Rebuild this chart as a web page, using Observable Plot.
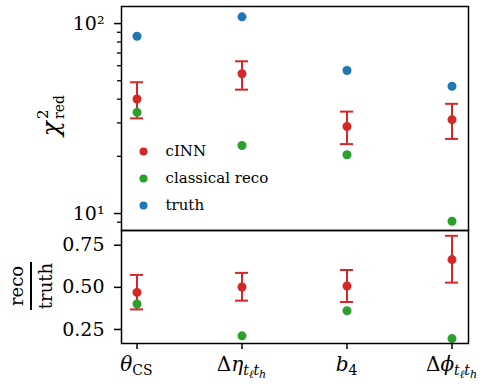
<!DOCTYPE html>
<html>
<head>
<meta charset="utf-8">
<script src="https://cdn.jsdelivr.net/npm/d3@7"></script>
<script src="https://cdn.jsdelivr.net/npm/@observablehq/plot@0.6"></script>
<style>
  html, body { margin: 0; padding: 0; background: white; }
  #wrap { position: relative; width: 485px; height: 386px; }
  #wrap svg { position: absolute; left: 0; top: 0; }
</style>
</head>
<body>
<div id="wrap"></div>
<script>
// ---- data ----
const categories = ["thetaCS", "deltaEta", "b4", "deltaPhi"];
const cinnChi      = [40.1, 54.4, 28.7, 31.2];
const cinnChiLo    = [31.7, 44.9, 23.2, 24.7];
const cinnChiHi    = [49.1, 63.3, 34.4, 37.8];
const classicalChi = [34.1, 22.8, 20.4, 9.11];
const truthChi     = [85.8, 108.5, 56.6, 46.8];
const cinnRatio      = [0.470, 0.502, 0.508, 0.665];
const cinnRatioLo    = [0.369, 0.421, 0.413, 0.528];
const cinnRatioHi    = [0.574, 0.586, 0.603, 0.806];
const classicalRatio = [0.401, 0.212, 0.361, 0.196];
const seriesNames = ["cINN", "classical reco", "truth"];
const seriesColors = ["#d62728", "#2ca02c", "#1f77b4"];
const chiMajorTicks = [10, 100];
const chiMinorTicks = [9, 20, 30, 40, 50, 60, 70, 80, 90];
const ratioTicks = [0.25, 0.5, 0.75];

const topRows = categories.map((c, i) => ({cat: c, cinn: cinnChi[i], lo: cinnChiLo[i], hi: cinnChiHi[i], classical: classicalChi[i], truth: truthChi[i]}));
const botRows = categories.map((c, i) => ({cat: c, cinn: cinnRatio[i], lo: cinnRatioLo[i], hi: cinnRatioHi[i], classical: classicalRatio[i]}));

const [RED, GREEN, BLUE] = seriesColors;
const FONT = "DejaVu Serif";
const xOpts = {type: "band", domain: categories, paddingInner: 0.876, paddingOuter: 0.0876, axis: null};
const style = {fontFamily: FONT, fontSize: "17px", color: "black", background: "transparent", overflow: "visible"};

const legendMarks = seriesNames.flatMap((name, i) => [
  Plot.dot([name], {frameAnchor: "top-left", dx: 22, dy: 145 + i * 27, r: 4, fill: seriesColors[i]}),
  Plot.text([name], {frameAnchor: "top-left", dx: 44, dy: 145 + i * 27, text: d => d, textAnchor: "start", lineAnchor: "middle", fontSize: 15, fill: "black"})
]);

const topPlot = Plot.plot({
  width: 485, height: 231,
  marginTop: 6, marginBottom: 1, marginLeft: 121, marginRight: 17,
  x: xOpts,
  y: {type: "log", domain: [8.14, 123], axis: null},
  style,
  marks: [
    Plot.axisY({ticks: chiMinorTicks, tickFormat: () => "", tickSize: 4, label: null, strokeWidth: 1.3}),
    Plot.axisY({ticks: chiMajorTicks, tickFormat: d => d === 10 ? "10\u00b9" : "10\u00b2", tickSize: 7, tickPadding: 10, label: null, strokeWidth: 1.5}),
    Plot.ruleX(topRows, {x: "cat", y1: "lo", y2: "hi", stroke: RED, strokeWidth: 2}),
    Plot.tickY(topRows, {x: "cat", y: "lo", stroke: RED, strokeWidth: 2}),
    Plot.tickY(topRows, {x: "cat", y: "hi", stroke: RED, strokeWidth: 2}),
    Plot.dot(topRows, {x: "cat", y: "cinn", r: 4.5, fill: RED}),
    Plot.dot(topRows, {x: "cat", y: "classical", r: 4.5, fill: GREEN}),
    Plot.dot(topRows, {x: "cat", y: "truth", r: 4.5, fill: BLUE}),
    ...legendMarks,
    Plot.frame({stroke: "black", strokeWidth: 1.5})
  ]
});

const botPlot = Plot.plot({
  width: 485, height: 386,
  marginTop: 230, marginBottom: 43, marginLeft: 121, marginRight: 17,
  x: xOpts,
  y: {domain: [0.1667, 0.8375], axis: null},
  style,
  marks: [
    Plot.axisY({ticks: ratioTicks, tickFormat: d3.format(".2f"), tickSize: 7, tickPadding: 10, label: null, strokeWidth: 1.5}),
    Plot.axisX({tickSize: 6, tickFormat: () => "", label: null, strokeWidth: 1.5}),
    Plot.ruleX(botRows, {x: "cat", y1: "lo", y2: "hi", stroke: RED, strokeWidth: 2}),
    Plot.tickY(botRows, {x: "cat", y: "lo", stroke: RED, strokeWidth: 2}),
    Plot.tickY(botRows, {x: "cat", y: "hi", stroke: RED, strokeWidth: 2}),
    Plot.dot(botRows, {x: "cat", y: "cinn", r: 4.5, fill: RED}),
    Plot.dot(botRows, {x: "cat", y: "classical", r: 4.5, fill: GREEN}),
    Plot.frame({stroke: "black", strokeWidth: 1.5})
  ]
});

const wrap = document.getElementById("wrap");
wrap.appendChild(topPlot);
wrap.appendChild(botPlot);

// enlarge the y tick labels
[topPlot, botPlot].forEach(p => {
  d3.select(p).selectAll('g[aria-label="y-axis tick label"]').attr("font-size", 19)
    .selectAll("text").style("font-size", "19px");
});

// ---- y label top: chi^2_red ----
{
  const g = d3.select(topPlot).append("g").attr("transform", "translate(58,120) rotate(-90)")
    .attr("font-family", FONT).attr("fill", "black");
  g.append("text").attr("x", -1).attr("y", 1).attr("text-anchor", "end")
    .attr("font-style", "italic").attr("font-size", 25).text("χ");
  g.append("text").attr("x", 1).attr("y", -10).attr("text-anchor", "start").attr("font-size", 15).text("2");
  g.append("text").attr("x", 1).attr("y", 6).attr("text-anchor", "start").attr("font-size", 14).text("red");
}
// ---- y label bottom: reco / truth ----
{
  const g = d3.select(botPlot).append("g").attr("transform", "translate(0,286) rotate(-90)")
    .attr("font-family", FONT).attr("fill", "black").attr("text-anchor", "middle").attr("font-size", 18);
  g.append("text").attr("x", 0).attr("y", 23).text("reco");
  g.append("line").attr("x1", -24).attr("x2", 24).attr("y1", 31).attr("y2", 31).attr("stroke", "black").attr("stroke-width", 2);
  g.append("text").attr("x", 0).attr("y", 52).text("truth");
}
// ---- x tick labels with math ----
{
  const xs = botPlot.scale("x");
  const parts = {
    thetaCS: [["θ", 20, 0, true], ["CS", 14, 4, false]],
    deltaEta: [["Δ", 20, 0, false], ["η", 20, 0, true], ["t", 14, 4, true], ["ℓ", 11, 3, true], ["t", 14, -3, true], ["h", 11, 3, true]],
    b4: [["b", 20, 0, true], ["4", 14, 4, false]],
    deltaPhi: [["Δ", 20, 0, false], ["ϕ", 20, 0, true], ["t", 14, 4, true], ["ℓ", 11, 3, true], ["t", 14, -3, true], ["h", 11, 3, true]]
  };
  const svg = d3.select(botPlot);
  categories.forEach(c => {
    const cx = xs.apply(c) + xs.bandwidth / 2;
    const t = svg.append("text").attr("x", cx).attr("y", 371).attr("text-anchor", "middle")
      .attr("font-family", FONT).attr("fill", "black");
    parts[c].forEach(([s, fs, dy, it]) => {
      t.append("tspan").attr("font-size", fs).attr("dy", dy).attr("font-style", it ? "italic" : "normal").text(s);
    });
  });
}
</script>
</body>
</html>
